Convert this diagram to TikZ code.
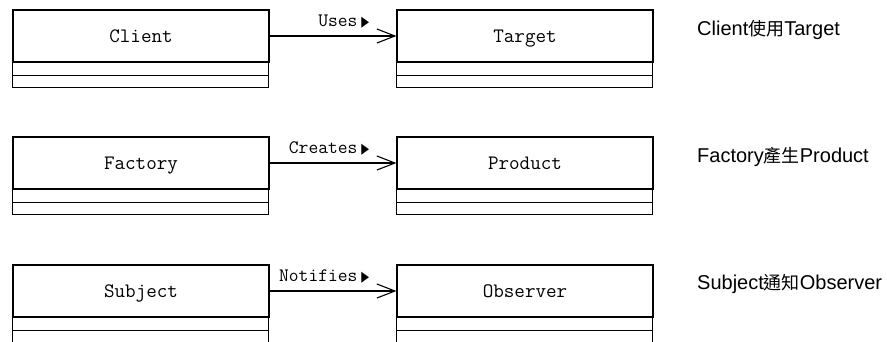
\documentclass[tikz,border=0pt]{standalone}
\usepackage{fontspec}
\setmainfont{Liberation Sans}
\newfontfamily\cjkfont{Noto Sans CJK TC}
\newfontfamily\symfont[FakeStretch=0.7]{DejaVu Sans}
\newfontfamily\lmmono{Latin Modern Mono}
\usetikzlibrary{arrows.meta}
\tikzset{
  uml/.style={line width=1.1pt},
  clsname/.style={uml, draw, rectangle, minimum width=256pt, minimum height=52pt, inner sep=0pt,
    text height=12pt, text depth=0pt, font=\lmmono\fontsize{20.5}{22}\selectfont},
  assoc/.style={uml, -{Straight Barb[length=18pt,width=14pt,line width=1.1pt]}},
  rolelabel/.style={pos=0.79, anchor=base east, yshift=10pt, inner sep=0pt, font=\lmmono\fontsize{19}{20}\selectfont},
  note/.style={anchor=base west, inner sep=0pt, font=\fontsize{20}{22}\selectfont}
}
\newcommand{\tri}{{\symfont\fontsize{14.5}{14}\selectfont ▶}}
\newcommand{\cjktext}[1]{{\cjkfont\fontsize{18}{20}\selectfont #1}}
\newcommand{\compartments}[1]{%
  \draw[uml] (#1.south west) rectangle ++(256pt,-12.5pt);
  \draw[uml] ([yshift=-12.5pt]#1.south west) rectangle ++(256pt,-12.5pt);}
\begin{document}
\begin{tikzpicture}[x=1pt,y=-1pt]
\useasboundingbox (0,0) rectangle (887,341);
\clip (0,0) rectangle (887,341);
% row 1
\node[clsname] (client) at (141,36) {Client};
\node[clsname] (target) at (525,36) {Target};
\compartments{client}
\compartments{target}
\draw[assoc] (client.east) -- node[rolelabel] (uses) {Uses\hspace{4pt}\tri} (target.west);
\node[note] (n1) at (697,35) {Client\cjktext{使用}Target};
% row 2
\node[clsname] (factory) at (141,163) {Factory};
\node[clsname] (product) at (525,163) {Product};
\compartments{factory}
\compartments{product}
\draw[assoc] (factory.east) -- node[rolelabel] (creates) {Creates\hspace{4pt}\tri} (product.west);
\node[note] (n2) at (697,162) {Factory\cjktext{產生}Product};
% row 3
\node[clsname] (subject) at (141,291) {Subject};
\node[clsname] (observer) at (525,291) {Observer};
\compartments{subject}
\compartments{observer}
\draw[assoc] (subject.east) -- node[rolelabel] (notifies) {Notifies\hspace{4pt}\tri} (observer.west);
\node[note] (n3) at (697,289) {Subject\cjktext{通知}Observer};
\end{tikzpicture}
\end{document}
